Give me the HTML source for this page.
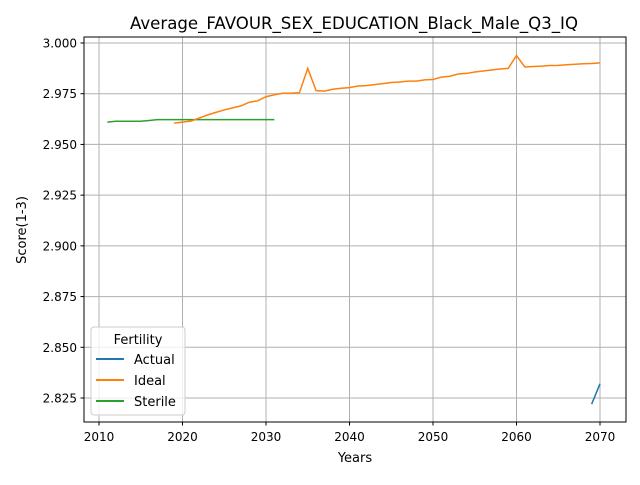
<!DOCTYPE html>
<html><head><meta charset="utf-8"><style>
body{margin:0;background:#fff}
svg{font-family:"DejaVu Sans","Liberation Sans",sans-serif}
</style></head><body>
<svg id="chart" width="640" height="480" xmlns="http://www.w3.org/2000/svg">
<rect width="640" height="480" fill="#fff"/>
<text x="354" y="29" font-size="16.6" text-anchor="middle">Average_FAVOUR_SEX_EDUCATION_Black_Male_Q3_IQ</text>
<g id="grid"></g>
<g id="series"></g>
<rect x="84" y="37" width="542" height="385" fill="none" stroke="#000" stroke-width="1"/>
<g id="ticks"></g>
<text x="355" y="462" font-size="13" text-anchor="middle">Years</text>
<text transform="translate(26,230) rotate(-90)" font-size="13" text-anchor="middle">Score(1-3)</text>
<g>
<rect x="91" y="327" width="94" height="88" rx="3" fill="#fff" fill-opacity="0.8" stroke="#ccc"/>
<text x="138" y="344" font-size="13" text-anchor="middle">Fertility</text>
<g><line x1="96" y1="359" x2="124" y2="359" stroke="#1f77b4" stroke-width="2"/><text x="134" y="364" font-size="13">Actual</text></g>
<g><line x1="96" y1="380" x2="124" y2="380" stroke="#ff7f0e" stroke-width="2"/><text x="134" y="385" font-size="13">Ideal</text></g>
<g><line x1="96" y1="401" x2="124" y2="401" stroke="#2ca02c" stroke-width="2"/><text x="134" y="406" font-size="13">Sterile</text></g>
</g>
</svg>
<script>
const xTicks=[2010,2020,2030,2040,2050,2060,2070];
const yTicks=[2.825,2.850,2.875,2.900,2.925,2.950,2.975,3.000];
const actualYears=[2069,2070];
const actualValues=[2.822,2.832];
const idealYears=[2019,2020,2021,2022,2023,2024,2025,2026,2027,2028,2029,2030,2031,2032,2033,2034,2035,2036,2037,2038,2039,2040,2041,2042,2043,2044,2045,2046,2047,2048,2049,2050,2051,2052,2053,2054,2055,2056,2057,2058,2059,2060,2061,2062,2063,2064,2065,2066,2067,2068,2069,2070];
const idealValues=[2.9605,2.961,2.9615,2.963,2.9645,2.9658,2.967,2.968,2.969,2.9708,2.9715,2.9735,2.9745,2.9752,2.9753,2.9755,2.9875,2.9765,2.9763,2.9772,2.9777,2.978,2.9788,2.979,2.9795,2.98,2.9805,2.9808,2.9812,2.9812,2.9818,2.982,2.9832,2.9836,2.9847,2.985,2.9857,2.9862,2.9867,2.9872,2.9875,2.9938,2.9882,2.9884,2.9886,2.9889,2.989,2.9893,2.9895,2.9898,2.9899,2.9902];
const sterileYears=[2011,2012,2013,2014,2015,2016,2017,2018,2019,2020,2021,2022,2023,2024,2025,2026,2027,2028,2029,2030,2031];
const sterileValues=[2.961,2.9614,2.9614,2.9614,2.9614,2.9618,2.9622,2.9622,2.9622,2.9622,2.9622,2.9622,2.9622,2.9622,2.9622,2.9622,2.9622,2.9622,2.9622,2.9622,2.9622];
const NS="http://www.w3.org/2000/svg";
const xs=v=>99+(v-2010)*(600-99)/60;
const ys=v=>398-(v-2.825)*(398-43)/0.175;
function mk(t,a,p){const e=document.createElementNS(NS,t);for(const k in a)e.setAttribute(k,a[k]);p.appendChild(e);return e;}
const grid=document.getElementById('grid'),ticks=document.getElementById('ticks'),ser=document.getElementById('series');
xTicks.forEach(t=>{const x=xs(t);
 const g=mk('line',{x1:x,x2:x,y1:37,y2:422,stroke:'#b0b0b0','stroke-width':1},grid);
 
 
 mk('line',{x1:x,x2:x,y1:422,y2:425.5,stroke:'#000'},ticks);
 const l=mk('text',{x:x,y:441,'font-size':12,'text-anchor':'middle'},ticks);l.textContent=t;
 
 
});
yTicks.forEach(t=>{const y=ys(t);
 const g=mk('line',{x1:84,x2:626,y1:y,y2:y,stroke:'#b0b0b0','stroke-width':1},grid);
 
 
 mk('line',{x1:80.5,x2:84,y1:y,y2:y,stroke:'#000'},ticks);
 const l=mk('text',{x:77,y:y+4.5,'font-size':12,'text-anchor':'end'},ticks);l.textContent=t.toFixed(3);
 
 
});
function line(xsArr,vs,c,name){
 const p=mk('polyline',{points:xsArr.map((x,i)=>xs(x)+','+ys(vs[i])).join(' '),fill:'none',stroke:c,'stroke-width':1.5},ser);
 
 
}
line(sterileYears,sterileValues,'#2ca02c','sterile-line');
line(idealYears,idealValues,'#ff7f0e','ideal-line');
line(actualYears,actualValues,'#1f77b4','actual-line');
</script>
</body></html>
